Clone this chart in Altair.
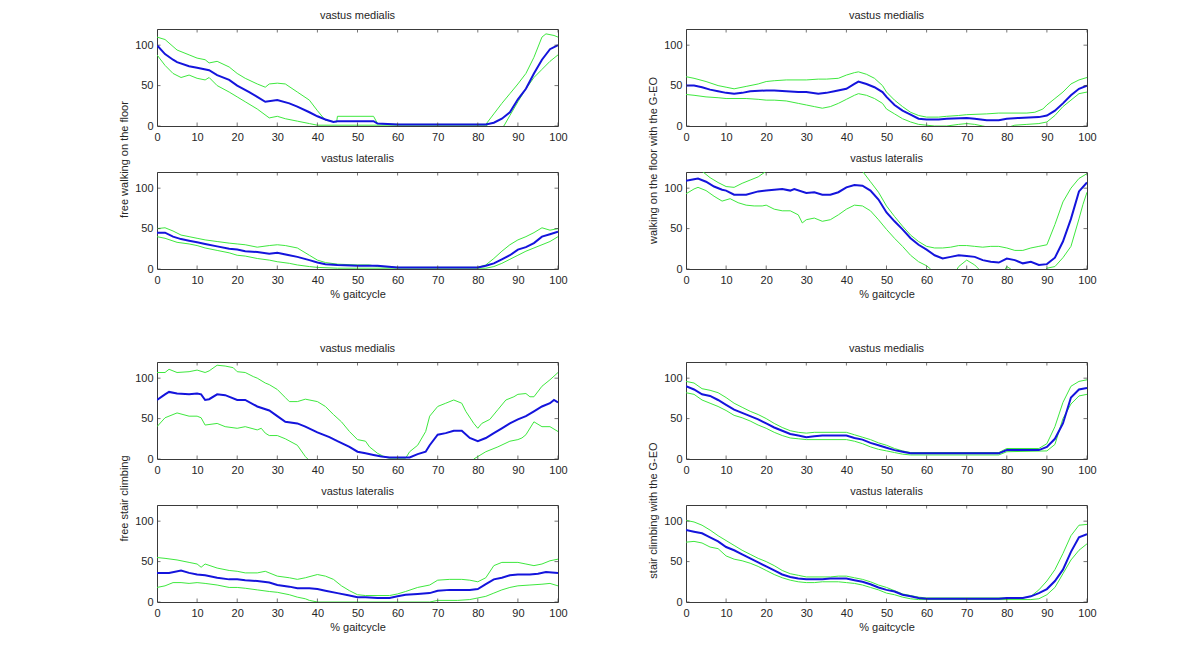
import altair as alt
import pandas as pd

FONT = "Liberation Sans"
GREEN = "#3ee83e"
BLUE = "#1414dc"
BOX = "#3a3a3a"
TXT = "#262626"

X_TICKS = [0, 10, 20, 30, 40, 50, 60, 70, 80, 90, 100]
Y_TICKS = [0, 50, 100]

ROW_TITLES = ["free walking on the floor", "walking on the floor with the G-EO",
              "free stair climbing", "stair climbing with the G-EO"]
MUSCLES = ["vastus medialis", "vastus lateralis"]
X_TITLE = "% gaitcycle"

# ---- free walking on the floor ----
WALK_VM_MEAN = [(0,100),(2,89),(4,82),(5,79),(8,74),(10,72),(13,69),(15,63),(18,57),(20,50),(23,42),(25,36),(27,30),(30,32),(33,28),(35,24),(38,17),(40,12),(42,8),(44,5),(45,6),(54,6),(55,3),(60,2),(70,2),(82,2),(84,4),(86,9),(88,17),(90,33),(92,46),(94,65),(96,82),(98,95),(100,100)]
WALK_VM_UP = [(0,110),(2,107),(5,94),(8,88),(10,84),(12,82),(13,78),(15,80),(18,73),(20,65),(22,59),(25,52),(27,48),(28,52),(30,53),(32,52),(35,42),(38,32),(40,19),(42,7),(44.8,5),(45,12),(54,12),(55,3),(60,2),(82,2),(84,15),(86,28),(88,40),(90,52),(92,65),(94,85),(96,110),(97,114),(99,112),(100,110)]
WALK_VM_LO = [(0,88),(2,75),(4,65),(6,60),(8,63),(10,59),(12,57),(13,60),(15,50),(18,42),(20,36),(22,30),(25,21),(28,10),(30,12),(32,9),(35,6),(38,3),(40,1),(82,1),(84,-5),(86,-2),(86.5,0),(88,13),(90,30),(92,46),(94,60),(96,70),(98,80),(100,88)]
WALK_VL_MEAN = [(0,45),(2,45),(4,40),(6,37),(8,35),(10,33),(12,31),(15,28),(18,25),(20,24),(22,22),(25,21),(28,19),(30,20),(33,17),(35,15),(38,11),(40,8),(42,6),(45,5),(50,4),(55,4),(60,2),(80,2),(82,4),(84,7),(86,12),(88,17),(90,24),(92,27),(94,32),(96,40),(98,43),(100,46)]
WALK_VL_UP = [(0,50),(2,51),(4,47),(6,42),(8,40),(10,38),(12,36),(15,34),(18,32),(20,31),(22,30),(25,27),(28,29),(30,30),(32,29),(35,26),(38,17),(40,11),(42,8),(45,6),(50,5),(53,5),(55,3),(60,2),(80,2),(82,5),(84,13),(86,22),(88,30),(90,36),(92,40),(94,45),(96,51),(98,48),(100,50)]
WALK_VL_LO = [(0,40),(2,38),(5,33),(8,31),(10,29),(12,26),(15,23),(18,20),(20,17),(22,16),(25,13),(28,11),(30,9),(33,7),(35,5),(38,3),(40,2),(45,1),(82,1),(84,3),(86,7),(88,12),(90,17),(92,22),(94,26),(96,30),(98,34),(100,40)]

# ---- walking on the floor with the G-EO ----
GEO_WALK_VM_MEAN = [(0,50),(2,50),(4,48),(6,45),(8,43),(10,41),(12,40),(14,41),(16,43),(20,44),(22,44),(25,43),(28,42),(30,42),(33,40),(35,41),(37,43),(40,46),(42,52),(43,55),(45,52),(47,48),(49,42),(50,36),(52,26),(54,19),(56,14),(58,9),(60,8),(63,8),(65,9),(70,10),(72,9),(75,7),(78,7),(80,9),(83,10),(88,11),(90,13),(92,19),(94,28),(96,38),(98,46),(100,50)]
GEO_WALK_VM_UP = [(0,61),(2,59),(5,55),(8,50),(10,48),(12,46),(15,49),(18,52),(20,55),(22,56),(25,57),(30,57),(33,58),(35,58),(38,59),(40,63),(42,66),(43,67),(45,64),(47,59),(49,50),(50,42),(52,32),(54,24),(56,17),(58,13),(60,11),(63,11),(65,12),(68,13),(70,14),(75,15),(78,16),(85,16),(87,17),(89,21),(90,26),(92,34),(94,42),(96,52),(98,57),(100,60)]
GEO_WALK_VM_LO = [(0,39),(2,38),(5,36),(8,35),(10,34),(15,34),(18,33),(20,32),(22,32),(25,31),(28,28),(30,26),(32,24),(34,22),(36,24),(38,28),(40,33),(42,38),(43,40),(45,38),(47,34),(49,28),(50,21),(52,15),(54,9),(56,5),(58,2),(60,1),(62,0),(65,0),(68,2),(70,3),(72,2),(74,0),(76,-2),(80,-2),(82,1),(85,2),(88,3),(90,5),(92,13),(94,24),(96,32),(98,40),(100,42)]
GEO_WALK_VL_MEAN = [(0,109),(2,111),(3,112),(5,108),(7,102),(9,98),(10,97),(12,92),(15,92),(18,96),(20,97),(22,98),(24,99),(26,97),(27,99),(30,94),(32,95),(34,92),(36,92),(38,95),(40,101),(42,104),(44,103),(46,97),(48,86),(50,70),(52,59),(54,49),(56,38),(58,30),(60,24),(62,17),(64,13),(66,15),(68,17),(70,16),(72,15),(74,11),(76,9),(78,8),(80,13),(82,11),(84,7),(86,9),(88,5),(90,6),(92,14),(94,34),(96,62),(98,96),(100,107)]
GEO_WALK_VL_UP = [(0,128),(2,125),(4,121),(6,113),(8,107),(10,102),(12,101),(14,106),(16,110),(18,114),(20,121),(22,130),(43,130),(44,121),(46,108),(48,95),(50,78),(52,65),(54,53),(56,42),(58,34),(60,28),(62,26),(64,26),(66,27),(68,29),(70,29),(72,28),(74,27),(76,28),(78,28),(80,26),(82,23),(84,23),(86,26),(88,28),(90,30),(92,55),(94,83),(96,100),(98,112),(100,118)]
GEO_WALK_VL_LO = [(0,93),(2,99),(3,101),(5,97),(7,90),(9,84),(11,87),(13,82),(15,79),(17,78),(19,78),(20,79),(22,74),(24,72),(26,72),(28,67),(29,57),(30,61),(32,63),(34,59),(36,61),(38,67),(40,74),(42,79),(44,78),(46,72),(48,61),(50,49),(52,38),(54,28),(56,17),(58,9),(60,4),(61,0),(62,-5),(67,-5),(68,3),(70,11),(72,5),(73,0),(74,-5),(79,-5),(80,3),(81,0),(82,-5),(89,-5),(90,1),(92,3),(94,14),(96,28),(98,62),(99,80),(100,95)]

# ---- free stair climbing ----
STAIR_VM_MEAN = [(0,73),(2,80),(3,83),(5,81),(8,80),(10,81),(11,80),(12,73),(13,74),(15,80),(17,79),(20,73),(22,73),(25,65),(28,60),(30,53),(32,46),(35,44),(37,40),(40,33),(43,27),(45,22),(48,15),(50,9),(52,7),(54,5),(56,3),(58,2),(63,2),(65,6),(67,9),(68,17),(70,30),(72,32),(74,35),(76,35),(78,26),(80,22),(82,26),(84,32),(86,38),(88,44),(90,49),(92,53),(94,59),(96,65),(98,69),(99,73),(100,70)]
STAIR_VM_UP = [(0,107),(2,107),(3,111),(5,107),(8,108),(10,110),(12,107),(13,109),(15,116),(17,115),(19,113),(20,108),(22,107),(24,102),(25,100),(27,94),(28,92),(30,86),(32,76),(33,71),(35,71),(37,74),(40,71),(42,65),(44,55),(46,46),(48,34),(50,24),(52,22),(53,15),(55,7),(57,2),(58,1),(62,1),(63,9),(65,17),(67,34),(68,53),(70,65),(72,69),(74,73),(76,69),(77,59),(79,44),(80,38),(81,44),(83,49),(85,61),(87,73),(89,77),(90,80),(92,81),(93,77),(94,77),(96,90),(98,98),(100,107)]
STAIR_VM_LO = [(0,40),(2,51),(5,57),(8,53),(10,53),(11,51),(12,42),(15,44),(17,40),(20,38),(22,40),(25,36),(26,38),(27,32),(28,29),(30,29),(32,25),(35,17),(37,3),(38,-2),(40,-10),(78,-10),(79,0),(80,3),(82,9),(85,15),(88,22),(90,24),(91,26),(92,30),(94,46),(96,40),(98,40),(100,34)]
STAIR_VL_MEAN = [(0,36),(3,36),(6,39),(8,36),(10,34),(12,33),(15,30),(18,28),(20,28),(22,27),(25,26),(28,24),(30,21),(33,19),(35,17),(38,17),(40,16),(42,14),(45,11),(48,8),(50,6),(52,6),(55,5),(58,5),(60,7),(62,9),(65,10),(68,11),(70,14),(73,15),(78,15),(80,16),(82,22),(84,28),(86,30),(88,33),(90,34),(93,34),(95,35),(97,37),(100,36)]
STAIR_VL_UP = [(0,55),(2,54),(5,52),(8,49),(10,47),(11,43),(12,47),(15,42),(18,39),(20,38),(22,36),(25,36),(27,38),(30,32),(33,30),(35,28),(37,30),(40,34),(42,32),(44,28),(46,20),(48,14),(50,9),(52,8),(58,8),(60,10),(62,13),(65,18),(68,21),(70,27),(73,28),(76,28),(78,27),(80,25),(82,30),(84,45),(86,49),(90,49),(92,47),(94,45),(96,47),(98,51),(100,53)]
STAIR_VL_LO = [(0,18),(2,20),(4,24),(6,24),(8,23),(10,24),(12,23),(15,21),(18,18),(20,18),(22,17),(25,15),(28,13),(30,12),(33,9),(35,6),(37,4),(38,2),(40,0),(68,0),(70,2),(75,2),(78,3),(80,5),(82,7),(84,11),(86,15),(88,18),(90,20),(93,21),(96,22),(98,23),(100,20)]

# ---- stair climbing with the G-EO ----
GEO_STAIR_VM_MEAN = [(0,90),(2,86),(4,80),(6,78),(8,73),(10,67),(12,61),(14,57),(16,53),(18,49),(20,44),(22,39),(24,35),(26,31),(28,29),(30,27),(32,28),(34,29),(40,29),(42,26),(44,24),(46,20),(48,17),(50,14),(52,11),(54,9),(56,7),(78,7),(80,11),(88,11),(90,15),(92,25),(94,44),(96,76),(98,86),(100,88)]
GEO_STAIR_VM_UP = [(0,96),(2,94),(4,87),(6,85),(8,82),(10,76),(12,69),(14,64),(16,59),(18,55),(20,50),(22,44),(24,39),(26,35),(28,33),(30,32),(32,33),(40,33),(42,30),(44,27),(46,24),(48,20),(50,17),(52,13),(54,10),(56,8),(78,8),(80,13),(88,13),(90,19),(92,40),(94,70),(96,90),(98,96),(100,98)]
GEO_STAIR_VM_LO = [(0,82),(2,80),(4,73),(6,69),(8,65),(10,60),(12,54),(14,51),(16,47),(18,42),(20,38),(22,33),(24,29),(26,26),(28,25),(30,24),(40,24),(42,22),(44,19),(46,15),(48,12),(50,10),(52,8),(54,6),(56,5),(78,5),(80,9),(90,10),(92,18),(94,50),(96,68),(98,78),(100,80)]
GEO_STAIR_VL_MEAN = [(0,89),(2,87),(4,85),(6,80),(8,75),(10,68),(12,64),(14,59),(16,54),(18,49),(20,44),(22,39),(24,34),(26,31),(28,29),(30,28),(34,28),(36,29),(40,29),(42,27),(44,25),(46,22),(48,18),(50,15),(52,13),(54,9),(56,7),(58,5),(60,4),(78,4),(80,5),(84,5),(86,7),(88,11),(90,16),(92,26),(94,40),(96,62),(98,80),(100,84)]
GEO_STAIR_VL_UP = [(0,101),(2,99),(4,95),(6,89),(8,82),(10,76),(12,70),(14,64),(16,59),(18,54),(20,50),(22,45),(24,39),(26,35),(28,33),(30,31),(36,31),(38,32),(40,32),(42,30),(44,28),(46,25),(48,21),(50,18),(52,14),(54,10),(56,8),(58,6),(60,5),(84,5),(86,7),(88,15),(90,26),(92,40),(94,60),(96,82),(98,95),(100,96)]
GEO_STAIR_VL_LO = [(0,74),(2,75),(4,73),(6,68),(8,66),(10,57),(12,53),(14,51),(16,48),(18,44),(20,39),(22,34),(24,30),(26,27),(28,25),(30,24),(32,24),(34,25),(38,25),(40,24),(42,23),(44,21),(46,18),(48,15),(50,11),(52,9),(54,6),(56,4),(58,3),(86,3),(88,4),(90,9),(92,18),(94,35),(96,52),(98,64),(100,72)]

PW, PH = 401, 97


def sdf(pairs, name):
    return pd.DataFrame({"x": [p[0] for p in pairs], "y": [p[1] for p in pairs], "series": name})


def panel(muscle, mean, up, lo, ytitle="", ytitle_y=0, xtitle=""):
    xs = alt.Scale(domain=[0, 100], nice=False, zero=False)
    ys = alt.Scale(domain=[0, 120], nice=False)
    xaxis = alt.Axis(values=X_TICKS, format="d", title=xtitle, labelPadding=5.5, ticks=False,
                     tickSize=0, domain=False, grid=False, labelOverlap=False, labelFlush=False,
                     titleY=28.5, titleBaseline="alphabetic")
    yaxis = alt.Axis(values=Y_TICKS, format="d", title=ytitle, labelPadding=4, ticks=False,
                     tickSize=0, domain=False, grid=False, labelOverlap=False, labelFlush=False,
                     titleX=-33, titleY=ytitle_y, titleAngle=270, titleAlign="center",
                     titleBaseline="middle")
    band = pd.concat([sdf(up, "upper"), sdf(lo, "lower")], ignore_index=True)
    xt = pd.DataFrame({"x": X_TICKS})
    yt = pd.DataFrame({"y": Y_TICKS})
    X = alt.X("x:Q", scale=xs, axis=xaxis)
    Y = alt.Y("y:Q", scale=ys, axis=yaxis)
    green = alt.Chart(band).mark_line(clip=True, color=GREEN, strokeWidth=1).encode(
        x=X, y=Y, detail="series:N")
    blue = alt.Chart(sdf(mean, "mean")).mark_line(clip=True, color=BLUE, strokeWidth=2).encode(
        x=X, y=Y)
    tick_top = alt.Chart(xt).mark_tick(clip=True, color=BOX, size=7, thickness=1).encode(
        x=X, y=alt.value(0))
    tick_bot = alt.Chart(xt).mark_tick(clip=True, color=BOX, size=7, thickness=1).encode(
        x=X, y=alt.value(PH))
    tick_l = alt.Chart(yt).mark_tick(clip=True, color=BOX, size=7, thickness=1).encode(
        y=Y, x=alt.value(0))
    tick_r = alt.Chart(yt).mark_tick(clip=True, color=BOX, size=7, thickness=1).encode(
        y=Y, x=alt.value(PW))
    return alt.layer(green, blue, tick_top, tick_bot, tick_l, tick_r).properties(
        width=PW, height=PH,
        title=alt.TitleParams(text=muscle, offset=-1, baseline="alphabetic", frame="group",
                              fontSize=11, fontWeight="normal", font=FONT, color=TXT),
    )


def spacer():
    return alt.Chart(pd.DataFrame({"v": [0]})).mark_point(opacity=0).encode(
        x=alt.X("v:Q", axis=None), y=alt.Y("v:Q", axis=None)
    ).properties(width=PW, height=1, view=alt.ViewBackground(stroke="transparent"))


A = panel(MUSCLES[0], WALK_VM_MEAN, WALK_VM_UP, WALK_VM_LO, ROW_TITLES[0], 130)
B = panel(MUSCLES[1], WALK_VL_MEAN, WALK_VL_UP, WALK_VL_LO, xtitle=X_TITLE)
E = panel(MUSCLES[0], GEO_WALK_VM_MEAN, GEO_WALK_VM_UP, GEO_WALK_VM_LO, ROW_TITLES[1], 131)
F = panel(MUSCLES[1], GEO_WALK_VL_MEAN, GEO_WALK_VL_UP, GEO_WALK_VL_LO, xtitle=X_TITLE)
C = panel(MUSCLES[0], STAIR_VM_MEAN, STAIR_VM_UP, STAIR_VM_LO, ROW_TITLES[2], 136)
D = panel(MUSCLES[1], STAIR_VL_MEAN, STAIR_VL_UP, STAIR_VL_LO, xtitle=X_TITLE)
G = panel(MUSCLES[0], GEO_STAIR_VM_MEAN, GEO_STAIR_VM_UP, GEO_STAIR_VM_LO, ROW_TITLES[3], 148)
H = panel(MUSCLES[1], GEO_STAIR_VL_MEAN, GEO_STAIR_VL_UP, GEO_STAIR_VL_LO, xtitle=X_TITLE)

chart = alt.concat(
    A, E, B, F, spacer(), spacer(), C, G, D, H,
    columns=2, spacing={"row": 46, "column": 128}, bounds="flush",
).properties(
    padding={"left": 109, "top": 1, "right": 5, "bottom": 5},
).configure_view(
    stroke=BOX, strokeWidth=1,
).configure_axis(
    labelFont=FONT, labelFontSize=11, labelColor=TXT,
    titleFont=FONT, titleFontSize=11, titleFontWeight="normal", titleColor=TXT,
).configure_title(
    font=FONT, fontSize=11, fontWeight="normal", color=TXT,
)

chart.save("out.html", embed_options={"renderer": "svg", "actions": False})
